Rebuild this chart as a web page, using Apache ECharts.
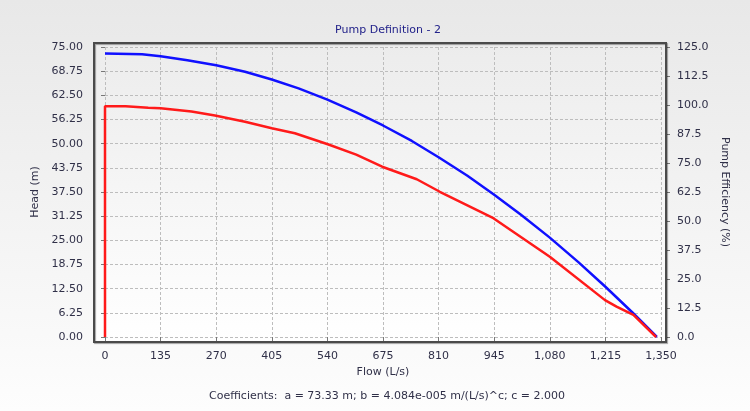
<!DOCTYPE html>
<html>
<head>
<meta charset="utf-8">
<script src="https://cdn.jsdelivr.net/npm/echarts@6/dist/echarts.min.js"></script>
<style>
  html, body { margin: 0; padding: 0; }
  #chart { width: 750px; height: 411px; }
</style>
</head>
<body>
<div id="chart"></div>
<script>
// head curve (left axis), flow in L/s
const headFlow = [0, 90, 135, 200, 270, 340, 405, 470, 540, 610, 675, 745, 810, 880, 945, 1010, 1080, 1150, 1215, 1280, 1340];
const headValues = [73.3, 73.1, 72.6, 71.6, 70.3, 68.6, 66.6, 64.3, 61.4, 58.1, 54.7, 50.7, 46.5, 41.7, 36.8, 31.6, 25.7, 19.3, 13.0, 6.4, 0];

// efficiency curve (right axis)
const effFlow = [0, 0, 50, 105, 135, 210, 267, 340, 405, 461, 541, 610, 673, 757, 813, 943, 1056, 1080, 1214, 1242, 1283, 1338];
const effValues = [0, 99.5, 99.5, 98.8, 98.6, 97.2, 95.5, 92.8, 90.0, 87.8, 83.1, 78.6, 73.4, 68.0, 62.6, 51.2, 37.5, 34.6, 15.9, 13.1, 9.5, 0];

const pairs = (xs, ys) => xs.map((x, i) => [x, ys[i]]);

const font = 'DejaVu Sans';
const labelColor = '#303048';
const gridLine = { show: true, lineStyle: { color: '#bdbdbd', type: [3, 2], width: 1 } };
const ticks = { show: true, length: 4, lineStyle: { color: '#777' } };

const chart = echarts.init(document.getElementById('chart'));
chart.setOption({
  backgroundColor: {
    type: 'linear', x: 0, y: 0, x2: 0, y2: 1,
    colorStops: [{ offset: 0, color: '#e8e8e8' }, { offset: 1, color: '#fdfdfd' }]
  },
  animation: false,
  textStyle: { fontFamily: font },
  title: [
    {
      text: 'Pump Definition - 2',
      left: 383, top: 20, textAlign: 'center',
      textStyle: { fontSize: 11, fontWeight: 'normal', color: '#22228a', fontFamily: font }
    },
    {
      text: 'Coefficients:  a = 73.33 m; b = 4.084e-005 m/(L/s)^c; c = 2.000',
      left: 382, top: 386, textAlign: 'center',
      textStyle: { fontSize: 11, fontWeight: 'normal', color: labelColor, fontFamily: font }
    }
  ],
  graphic: [
    {
      type: 'rect', z: -10, silent: true,
      shape: { x: 94, y: 43, width: 572, height: 299 },
      style: {
        fill: {
          type: 'linear', x: 0, y: 0, x2: 0, y2: 1,
          colorStops: [{ offset: 0, color: '#ececec' }, { offset: 1, color: '#ffffff' }]
        }
      }
    },
    {
      type: 'rect', z: 100, silent: true,
      shape: { x: 94, y: 43, width: 572, height: 299 },
      style: { fill: null, stroke: '#4a4a4a', lineWidth: 2, shadowColor: 'rgba(0,0,0,0.35)', shadowOffsetX: 1, shadowOffsetY: 1, shadowBlur: 1 }
    }
  ],
  grid: { left: 105, right: 89, top: 47, bottom: 74 },
  xAxis: {
    type: 'value', min: 0, max: 1350, interval: 135, offset: 5,
    name: 'Flow (L/s)', nameLocation: 'middle', nameGap: 23,
    nameTextStyle: { fontSize: 11, color: labelColor },
    axisLine: { show: false },
    axisTick: ticks,
    axisLabel: {
      margin: 9, fontSize: 11, color: labelColor,
      formatter: v => v.toLocaleString('en-US')
    },
    splitLine: gridLine
  },
  yAxis: [
    {
      type: 'value', min: 0, max: 75, interval: 6.25, offset: 11,
      name: 'Head (m)', nameLocation: 'middle', nameGap: 52,
      nameTextStyle: { fontSize: 11, color: labelColor },
      axisLine: { show: false },
      axisTick: ticks,
      axisLabel: { margin: 11, fontSize: 11, color: labelColor, formatter: v => v.toFixed(2) },
      splitLine: gridLine
    },
    {
      type: 'value', min: 0, max: 125, interval: 12.5, offset: 5, position: 'right',
      name: 'Pump Efficiency (%)', nameLocation: 'middle', nameGap: 52, nameRotate: -90,
      nameTextStyle: { fontSize: 11, color: labelColor },
      axisLine: { show: false },
      axisTick: ticks,
      axisLabel: { margin: 11, fontSize: 11, color: labelColor, formatter: v => v.toFixed(1) },
      splitLine: { show: false }
    }
  ],
  series: [
    {
      name: 'Head', type: 'line', yAxisIndex: 0, showSymbol: false,
      data: pairs(headFlow, headValues),
      lineStyle: { color: '#1010ff', width: 2.5 }
    },
    {
      name: 'Efficiency', type: 'line', yAxisIndex: 1, showSymbol: false,
      data: pairs(effFlow, effValues),
      lineStyle: { color: '#ff1a1a', width: 2.5 }
    }
  ]
});
</script>
</body>
</html>
